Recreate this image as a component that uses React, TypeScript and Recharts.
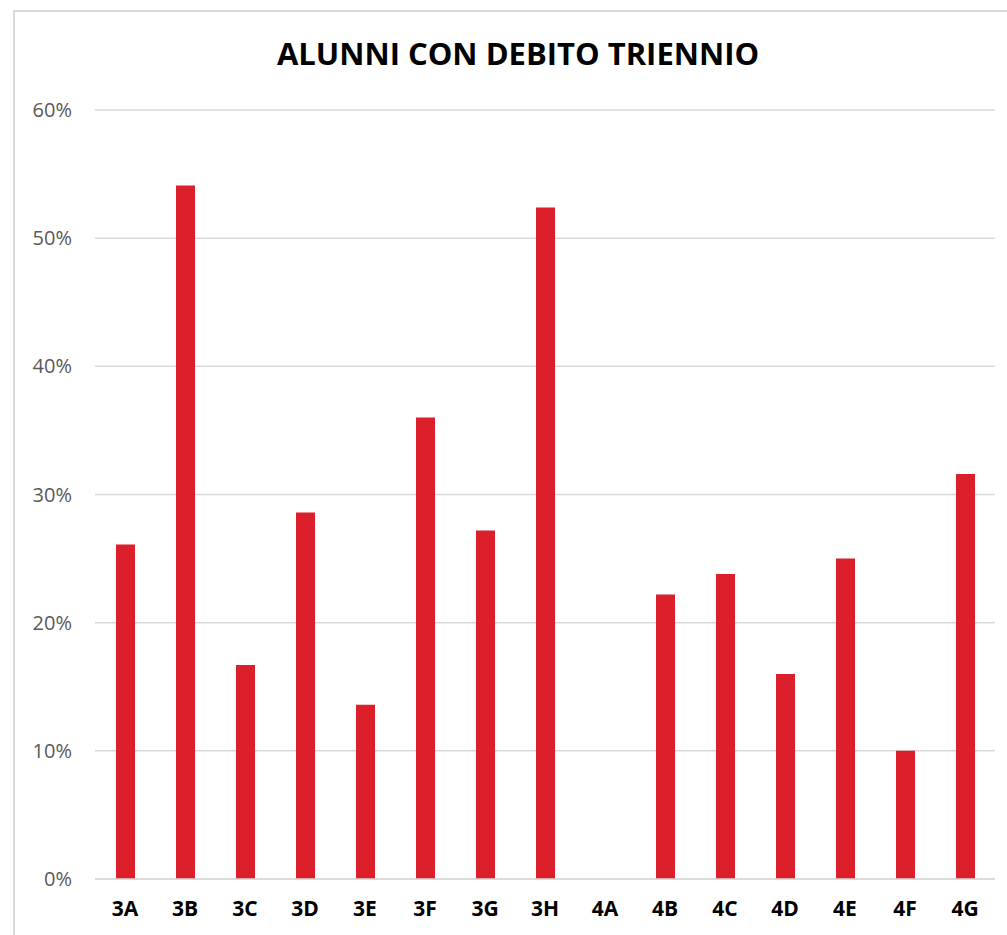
import React from 'react';
import { BarChart, Bar, XAxis, YAxis, CartesianGrid } from 'recharts';

const classes = ['3A', '3B', '3C', '3D', '3E', '3F', '3G', '3H', '4A', '4B', '4C', '4D', '4E', '4F', '4G'];
const debtShare = [0.261, 0.541, 0.167, 0.286, 0.136, 0.36, 0.272, 0.524, 0, 0.222, 0.238, 0.16, 0.25, 0.1, 0.316];
const yTicks = [0, 0.1, 0.2, 0.3, 0.4, 0.5, 0.6];

const data = classes.map((name, i) => ({ name, value: debtShare[i] }));

const font = '"Open Sans", "Noto Sans", sans-serif';

const App: React.FC = () => {
  return (
    <div style={{ position: 'fixed', left: 0, top: 0, width: 1007, height: 935, overflow: 'hidden', background: '#fff' }}>
      <div
        style={{
          position: 'absolute',
          left: 13,
          top: 10,
          width: 1020,
          height: 960,
          border: '2px solid #d9d9d9',
          boxSizing: 'border-box',
        }}
      />
      <div
        style={{
          position: 'absolute',
          left: 0,
          top: 32,
          width: 1036,
          textAlign: 'center',
          fontFamily: font,
          fontWeight: 700,
          fontSize: 31,
          color: '#000',
        }}
      >
        ALUNNI CON DEBITO TRIENNIO
      </div>
      <div style={{ position: 'absolute', left: 0, top: 0 }}>
        <BarChart
          width={1007}
          height={935}
          data={data}
          margin={{ top: 110, right: 12, bottom: 0, left: 0 }}
          barSize={19}
        >
          <CartesianGrid vertical={false} stroke="#d9d9d9" strokeWidth={1.5} />
          <XAxis
            dataKey="name"
            height={56}
            axisLine={{ stroke: '#d9d9d9', strokeWidth: 1.5 }}
            tickLine={false}
            tickMargin={16}
            interval={0}
            tick={{ fill: '#000', fontSize: 21, fontWeight: 700, fontFamily: font }}
          />
          <YAxis
            width={95}
            domain={[0, 0.6]}
            ticks={yTicks}
            axisLine={false}
            tickLine={false}
            tickMargin={17}
            tickFormatter={(v: number) => `${Math.round(v * 100)}%`}
            tick={{ fill: '#595959', fontSize: 20, fontFamily: font }}
          />
          <Bar dataKey="value" fill="#db1f2b" isAnimationActive={false} />
        </BarChart>
      </div>
    </div>
  );
};

export default App;
